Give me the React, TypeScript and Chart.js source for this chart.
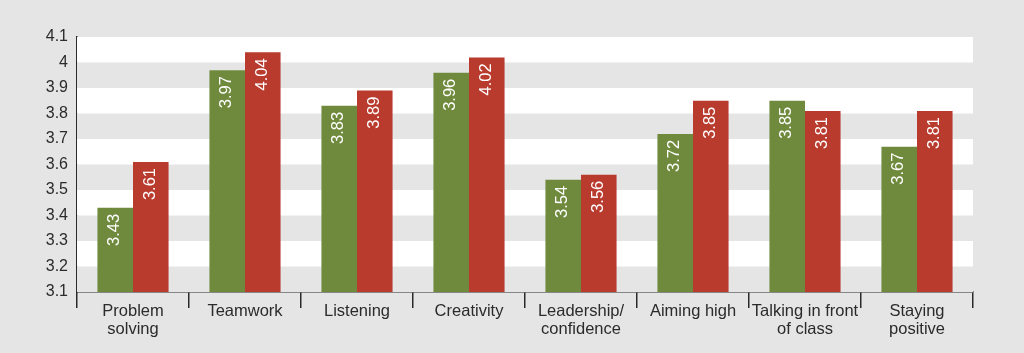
import React, { useEffect, useRef } from "react";
import { Chart, registerables } from "chart.js";

Chart.register(...registerables);

const categories: (string | string[])[] = [
  ["Problem", "solving"],
  "Teamwork",
  "Listening",
  "Creativity",
  ["Leadership/", "confidence"],
  "Aiming high",
  ["Talking in front", "of class"],
  ["Staying", "positive"],
];
const seriesGreen = [3.43, 3.97, 3.83, 3.96, 3.54, 3.72, 3.85, 3.67];
const seriesRed = [3.61, 4.04, 3.89, 4.02, 3.56, 3.85, 3.81, 3.81];
const yTickLabels = ["3.1", "3.2", "3.3", "3.4", "3.5", "3.6", "3.7", "3.8", "3.9", "4", "4.1"];

const BG = "#e4e5e4";
const GREEN = "#6f8a3c";
const RED = "#b83b2e";
const TEXT = "#2b2b2b";
const FONT = "'Liberation Sans', Arial, Helvetica, sans-serif";

const bandsPlugin = {
  id: "bands",
  beforeDatasetsDraw(chart: any) {
    const { ctx, chartArea, scales } = chart;
    const y = scales.y;
    ctx.save();
    for (let i = 0; i < yTickLabels.length - 1; i++) {
      const y0 = y.getPixelForValue(3.1 + 0.1 * i);
      const y1 = y.getPixelForValue(3.1 + 0.1 * (i + 1));
      ctx.fillStyle = i % 2 === 1 ? "#ffffff" : BG;
      ctx.fillRect(chartArea.left, y1, chartArea.right - chartArea.left, y0 - y1);
    }
    ctx.restore();
  },
};

const barLabelPlugin = {
  id: "barLabels",
  afterDatasetsDraw(chart: any) {
    const { ctx } = chart;
    ctx.save();
    ctx.fillStyle = "#ffffff";
    ctx.font = `16.5px ${FONT}`;
    ctx.textAlign = "right";
    ctx.textBaseline = "middle";
    chart.data.datasets.forEach((ds: any, di: number) => {
      const meta = chart.getDatasetMeta(di);
      meta.data.forEach((bar: any, i: number) => {
        ctx.save();
        ctx.translate(bar.x - 0.5, bar.y + 6);
        ctx.rotate(-Math.PI / 2);
        ctx.fillText(Number(ds.data[i]).toFixed(2), 0, 0);
        ctx.restore();
      });
    });
    ctx.restore();
  },
};

export default function App() {
  const ref = useRef<HTMLCanvasElement>(null);
  useEffect(() => {
    document.body.style.margin = "0";
    document.body.style.background = BG;
    const chart = new Chart(ref.current!, {
      type: "bar",
      data: {
        labels: categories,
        datasets: [
          { data: seriesGreen, backgroundColor: GREEN, borderWidth: 0 },
          { data: seriesRed, backgroundColor: RED, borderWidth: 0 },
        ],
      },
      options: {
        responsive: false,
        animation: false,
        layout: { padding: { left: 0, right: 51, top: 37, bottom: 0 } },
        plugins: { legend: { display: false }, tooltip: { enabled: false } },
        datasets: { bar: { categoryPercentage: 0.635, barPercentage: 1 } },
        scales: {
          x: {
            grid: {
              offset: true,
              drawOnChartArea: false,
              drawTicks: true,
              tickLength: 16,
              color: TEXT,
              lineWidth: 1.5,
            },
            border: { display: true, color: TEXT, width: 1.5 },
            ticks: {
              color: TEXT,
              font: { family: FONT, size: 16.5, lineHeight: 1.1 },
              padding: -6,
              maxRotation: 0,
              autoSkip: false,
            },
            afterFit(scale: any) {
              scale.height = 61;
            },
          },
          y: {
            min: 3.1,
            max: 4.1,
            grid: { display: false, drawTicks: false },
            border: { display: true, color: TEXT, width: 1.5 },
            ticks: {
              stepSize: 0.1,
              color: TEXT,
              font: { family: FONT, size: 16 },
              padding: 9,
              callback: (_v: any, i: number) => yTickLabels[i],
            },
            afterFit(scale: any) {
              scale.width = 77;
            },
          },
        },
      },
      plugins: [bandsPlugin, barLabelPlugin],
    });
    return () => chart.destroy();
  }, []);
  return (
    <div style={{ width: 1024, height: 353, background: BG }}>
      <canvas ref={ref} width={1024} height={353} style={{ display: "block" }} />
    </div>
  );
}
